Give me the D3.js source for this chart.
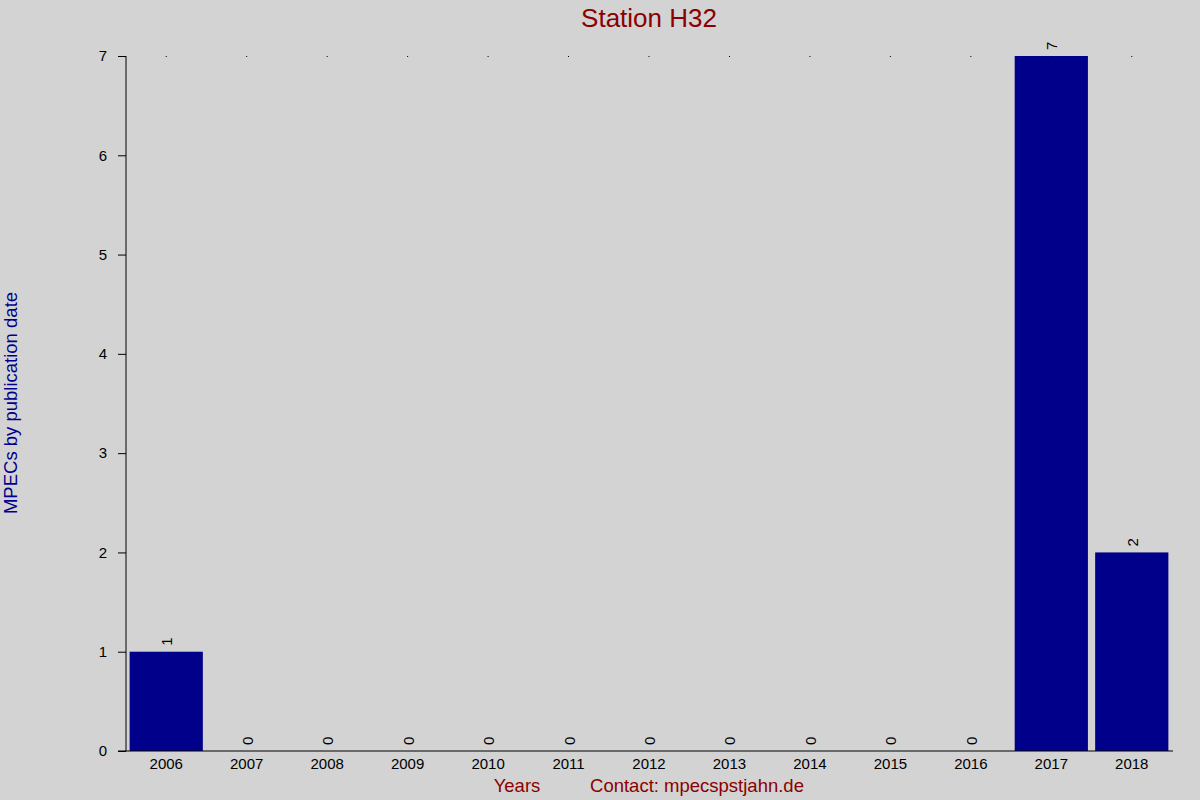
<!DOCTYPE html>
<html>
<head>
<meta charset="utf-8">
<script src="https://cdn.jsdelivr.net/npm/d3@7"></script>
<style>
  body { margin: 0; background: #d3d3d3; }
  svg { display: block; font-family: "Liberation Sans", Arial, sans-serif; }
</style>
</head>
<body>
<svg width="1200" height="800"></svg>
<script>
// data
var years = ['2006','2007','2008','2009','2010','2011','2012','2013','2014','2015','2016','2017','2018'];
var counts = [1, 0, 0, 0, 0, 0, 0, 0, 0, 0, 0, 7, 2];
var yTicks = [0, 1, 2, 3, 4, 5, 6, 7];

var svg = d3.select('svg');
var width = 1200, height = 800;
var margin = {top: 56, bottom: 49, left: 126, right: 28};
var innerWidth = width - margin.left - margin.right;
var innerHeight = height - margin.top - margin.bottom;

var data = years.map(function (y, i) { return {year: y, value: counts[i]}; });

svg.append('rect').attr('width', width).attr('height', height).attr('fill', '#d3d3d3');

var xScale = d3.scaleBand().domain(years).range([0, innerWidth]).paddingInner(0.09).paddingOuter(0.045);
var yScale = d3.scaleLinear().domain([0, 7]).range([innerHeight, 0]);

var g = svg.append('g').attr('transform', 'translate(' + margin.left + ',' + margin.top + ')');

// bars
g.selectAll('.bar')
  .data(data)
  .enter()
  .append('rect')
  .attr('class', 'bar')
  .attr('x', d => xScale(d.year))
  .attr('y', d => yScale(d.value))
  .attr('width', xScale.bandwidth())
  .attr('height', d => innerHeight - yScale(d.value))
  .attr('fill', '#00008b');

// small dots on top line
g.selectAll('.dot')
  .data(data)
  .enter()
  .append('rect')
  .attr('class', 'dot')
  .attr('x', d => xScale(d.year) + xScale.bandwidth() / 2 - 0.5)
  .attr('y', yScale(7))
  .attr('width', 1)
  .attr('height', 1)
  .attr('fill', '#000');

// value labels, rotated
g.selectAll('.val')
  .data(data)
  .enter()
  .append('text')
  .attr('class', 'val')
  .attr('transform', d => 'translate(' + (xScale(d.year) + xScale.bandwidth() / 2 + 6) + ',' + (yScale(d.value) - 6) + ') rotate(-90)')
  .attr('font-size', 15)
  .attr('fill', '#000')
  .text(d => d.value);

// y axis
var yAxis = d3.axisLeft(yScale).tickValues(yTicks).tickSize(8).tickPadding(11).tickFormat(d3.format('d'));
var yg = g.append('g').call(yAxis);
yg.select('.domain').attr('d', 'M0,' + innerHeight + 'V0').attr('stroke', '#000');
yg.selectAll('.tick line').attr('stroke', '#000');
yg.selectAll('text').attr('font-size', 15).attr('fill', '#000').attr('font-family', 'Liberation Sans, Arial, sans-serif');

// x axis
var xAxis = d3.axisBottom(xScale).tickSize(0).tickPadding(7);
var xg = g.append('g').attr('transform', 'translate(0,' + innerHeight + ')').call(xAxis);
xg.select('.domain').attr('d', 'M-8,0H' + (innerWidth + 1)).attr('stroke', '#000');
xg.selectAll('text').attr('font-size', 15).attr('fill', '#000').attr('font-family', 'Liberation Sans, Arial, sans-serif');

// title
svg.append('text')
  .attr('x', 649)
  .attr('y', 27)
  .attr('text-anchor', 'middle')
  .attr('font-size', 26)
  .attr('fill', '#8b0000')
  .text('Station H32');

// y label
svg.append('text')
  .attr('transform', 'translate(17,' + 403 + ') rotate(-90)')
  .attr('text-anchor', 'middle')
  .attr('font-size', 18.5)
  .attr('fill', '#00008b')
  .text('MPECs by publication date');

// x labels
svg.append('text')
  .attr('x', 517)
  .attr('y', 792)
  .attr('text-anchor', 'middle')
  .attr('font-size', 18.5)
  .attr('fill', '#8b0000')
  .text('Years');

svg.append('text')
  .attr('x', 697)
  .attr('y', 792)
  .attr('text-anchor', 'middle')
  .attr('font-size', 18.5)
  .attr('fill', '#8b0000')
  .text('Contact: mpecspstjahn.de');
</script>
</body>
</html>
